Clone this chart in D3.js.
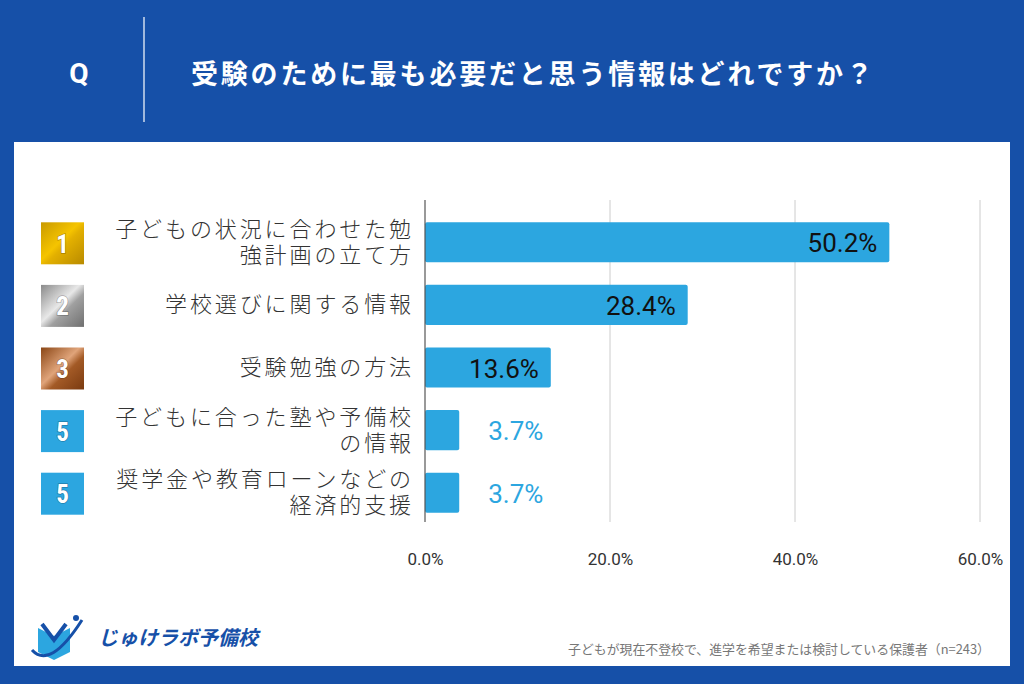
<!DOCTYPE html>
<html><head><meta charset="utf-8">
<script src="https://cdn.jsdelivr.net/npm/d3@7"></script>
<style>body{margin:0;background:#1650a8;}svg{display:block;font-family:"Noto Sans CJK JP","Noto Sans",sans-serif;}</style>
</head><body>
<svg id="c" width="1024" height="684"></svg>
<script>
const categories = [
  ["子どもの状況に合わせた勉","強計画の立て方"],
  ["学校選びに関する情報"],
  ["受験勉強の方法"],
  ["子どもに合った塾や予備校","の情報"],
  ["奨学金や教育ローンなどの","経済的支援"]
];
const values = [50.2, 28.4, 13.6, 3.7, 3.7];
const ranks = ["1","2","3","5","5"];
const ticks = [0, 20, 40, 60];
const title = "受験のために最も必要だと思う情報はどれですか？";
const note = "子どもが現在不登校で、進学を希望または検討している保護者（n=243）";

const svg = d3.select("#c");
const defs = svg.append("defs");
function grad(id, stops){
  const g = defs.append("linearGradient").attr("id",id).attr("x1","0").attr("y1","0").attr("x2","1").attr("y2","1");
  stops.forEach(s=>g.append("stop").attr("offset",s[0]).attr("stop-color",s[1]));
}
grad("gold",[[0,"#c99a00"],[0.45,"#f5c400"],[0.55,"#e3b000"],[1,"#b88a00"]]);
grad("silver",[[0,"#8a8a8a"],[0.45,"#e8e8e8"],[0.6,"#a0a0a0"],[1,"#6f6f6f"]]);
grad("bronze",[[0,"#8a4615"],[0.45,"#e0a47a"],[0.6,"#a35a26"],[1,"#7a3a10"]]);
const badgeFill = ["url(#gold)","url(#silver)","url(#bronze)","#2ca6e0","#2ca6e0"];

svg.append("rect").attr("width",1024).attr("height",684).attr("fill","#1650a8");
svg.append("rect").attr("x",14).attr("y",142).attr("width",996).attr("height",524).attr("fill","#fff");

// header
svg.append("text").attr("x",79).attr("y",73).attr("text-anchor","middle").attr("dominant-baseline","central")
  .attr("fill","#fff").attr("font-size",28).attr("font-weight","bold").attr("font-family","Roboto, sans-serif").text("Q");
svg.append("line").attr("x1",144).attr("x2",144).attr("y1",17).attr("y2",122).attr("stroke","#fff").attr("stroke-width",1.2);
svg.append("text").attr("x",191).attr("y",72).attr("dominant-baseline","central")
  .attr("fill","#fff").attr("font-size",27).attr("font-weight","bold").attr("letter-spacing",2.8).text(title);

const x = d3.scaleLinear().domain([0,60]).range([425,980]);
const y = d3.scaleBand().domain(d3.range(values.length)).range([211,524]).paddingInner(0.36).paddingOuter(0.18);

// grid
svg.append("g").selectAll("line").data(ticks.slice(1)).join("line")
  .attr("x1",d=>x(d)).attr("x2",d=>x(d)).attr("y1",200).attr("y2",522)
  .attr("stroke","#ccc").attr("stroke-width",1);

// bars
svg.append("g").selectAll("rect").data(values).join("rect")
  .attr("x",x(0)).attr("y",(d,i)=>y(i)).attr("width",d=>x(d)-x(0)).attr("height",y.bandwidth())
  .attr("rx",2).attr("fill","#2ca6e0");

// axis line
svg.append("line").attr("x1",x(0)).attr("x2",x(0)).attr("y1",200).attr("y2",522).attr("stroke","#555").attr("stroke-width",1.2);

// x axis
const ax = svg.append("g").attr("transform","translate(0,549)")
  .call(d3.axisBottom(x).tickValues(ticks).tickFormat(d=>d.toFixed(1)+"%").tickSize(0).tickPadding(4));
ax.select(".domain").remove();
ax.selectAll("text").attr("font-size",17).attr("fill","#333").attr("font-family","Roboto, Arial, sans-serif");

// value labels
svg.append("g").selectAll("text").data(values).join("text")
  .attr("x",d=> d>10 ? x(d)-12 : x(d)+29)
  .attr("y",(d,i)=>y(i)+y.bandwidth()/2+1)
  .attr("text-anchor",d=> d>10 ? "end" : "start")
  .attr("dominant-baseline","central")
  .attr("font-size",26).attr("font-family","Roboto, sans-serif")
  .attr("fill",d=> d>10 ? "#111" : "#2ca6e0")
  .text(d=>d.toFixed(1)+"%");

// category labels (one text per line)
const lines = [];
categories.forEach((c,i)=>c.forEach((s,k)=>lines.push({s, i, off:(k-(c.length-1)/2)*26})));
svg.append("g").selectAll("text").data(lines).join("text")
  .attr("x",414).attr("y",d=>y(d.i)+y.bandwidth()/2+d.off)
  .attr("text-anchor","end").attr("dominant-baseline","central")
  .attr("font-family","Roboto, 'Noto Sans CJK JP', sans-serif")
  .attr("font-size",22).attr("font-weight",300).attr("fill","#333").attr("letter-spacing",2.9)
  .text(d=>d.s);

// badges
const bg = svg.append("g").selectAll("g").data(ranks).join("g")
  .attr("transform",(d,i)=>`translate(41,${y(i)+y.bandwidth()/2-20})`);
bg.append("rect").attr("width",43).attr("height",42).attr("fill",(d,i)=>badgeFill[i]);
bg.append("text").attr("x",21.5).attr("y",22).attr("text-anchor","middle").attr("dominant-baseline","central")
  .attr("fill","#fff").attr("font-size",25).attr("font-weight","bold").attr("font-family","Roboto Condensed, Roboto, sans-serif")
  .style("paint-order","stroke").attr("stroke","rgba(0,0,0,0.25)").attr("stroke-width",1.5).text(d=>d);

// logo
const lg = svg.append("g").attr("transform","translate(30,610)");
lg.append("path").attr("d","M8 18 L8 42 L24 50 L40 42 L40 18 L24 26 Z").attr("fill","#2ca6e0");
lg.append("path").attr("d","M12 14 L24 30 L36 14").attr("fill","none").attr("stroke","#1650a8").attr("stroke-width",4);
lg.append("path").attr("d","M2 40 Q 20 60 52 10").attr("fill","none").attr("stroke","#1650a8").attr("stroke-width",3);
lg.append("circle").attr("cx",46).attr("cy",8).attr("r",3).attr("fill","#1650a8");
svg.append("text").attr("x",98).attr("y",636).attr("dominant-baseline","central").attr("fill","#1650a8")
  .attr("font-size",20).attr("font-weight","bold").attr("font-style","italic").text("じゅけラボ予備校");

svg.append("text").attr("x",990).attr("y",648).attr("text-anchor","end").attr("dominant-baseline","central")
  .attr("fill","#777").attr("font-size",13).attr("textLength",422).attr("lengthAdjust","spacingAndGlyphs").text(note);
</script>
</body></html>
